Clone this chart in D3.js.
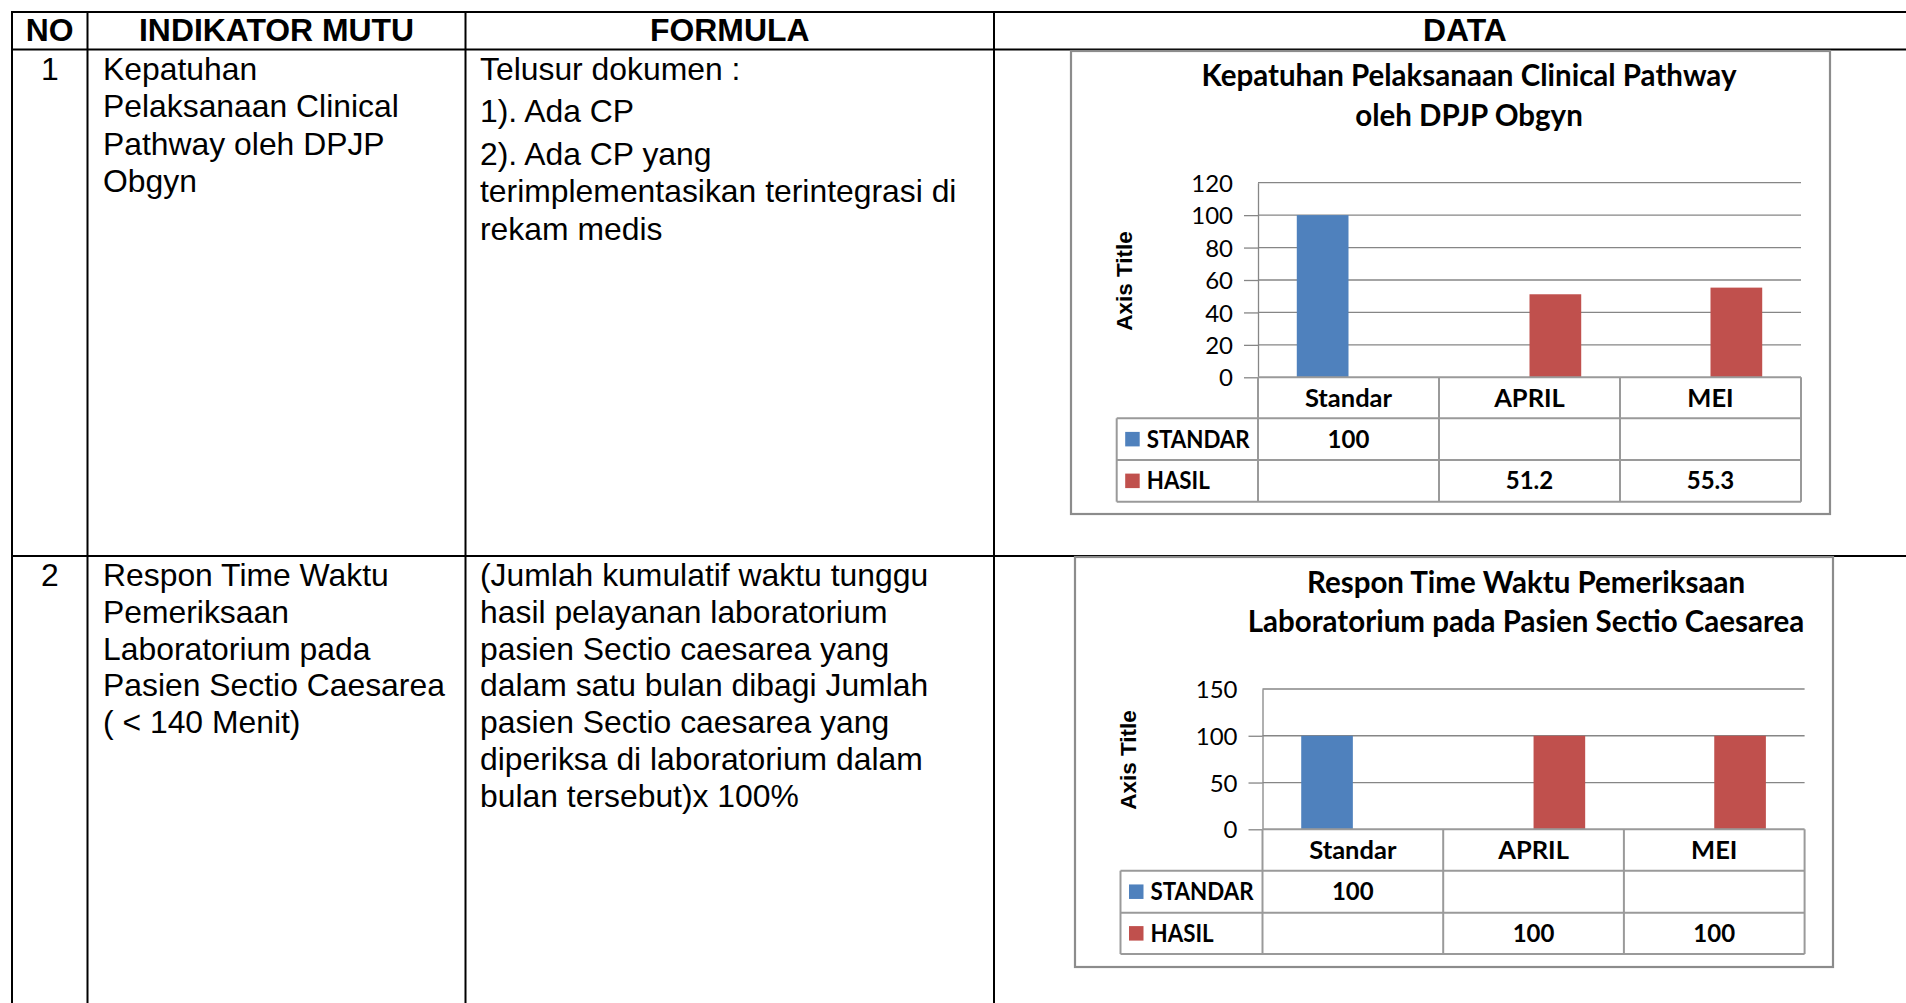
<!DOCTYPE html>
<html>
<head>
<meta charset="utf-8">
<script src="https://cdn.jsdelivr.net/npm/d3@7"></script>
<style>
  html, body { margin: 0; padding: 0; background: #ffffff; }
  svg { display: block; }
</style>
</head>
<body>
<svg id="page" width="1906" height="1003"></svg>
<script>
// ---------------- DATA ----------------
const headers = ["NO", "INDIKATOR MUTU", "FORMULA", "DATA"];
const rowNumbers = ["1", "2"];
const indicatorLines = [
  ["Kepatuhan", "Pelaksanaan Clinical", "Pathway oleh DPJP", "Obgyn"],
  ["Respon Time Waktu", "Pemeriksaan", "Laboratorium pada", "Pasien Sectio Caesarea", "( < 140 Menit)"]
];
const formulaRow1 = ["Telusur dokumen :", "1). Ada CP", "2). Ada CP yang", "terimplementasikan terintegrasi di", "rekam medis"];
const formulaRow2 = ["(Jumlah kumulatif waktu tunggu", "hasil pelayanan laboratorium", "pasien Sectio caesarea yang",
  "dalam satu bulan dibagi Jumlah", "pasien Sectio caesarea yang", "diperiksa di laboratorium dalam", "bulan tersebut)x 100%"];

const categories = ["Standar", "APRIL", "MEI"];
const seriesNames = ["STANDAR", "HASIL"];
const axisTitle = "Axis Title";

const chart1Title = ["Kepatuhan Pelaksanaan Clinical Pathway", "oleh DPJP Obgyn"];
const chart1Standar = [100, null, null];
const chart1Hasil = [null, 51.2, 55.3];
const chart1Ticks = [0, 20, 40, 60, 80, 100, 120];

const chart2Title = ["Respon Time Waktu Pemeriksaan", "Laboratorium pada Pasien Sectio Caesarea"];
const chart2Standar = [100, null, null];
const chart2Hasil = [null, 100, 100];
const chart2Ticks = [0, 50, 100, 150];

const seriesColors = ["#4F81BD", "#C0504D"];

// ---------------- DOCUMENT TABLE ----------------
const svg = d3.select("#page");
const DOC_FONT = "'Liberation Sans', Arial, sans-serif";
const docFs = 30.5, docSx = 1.045;

const colX = [12, 87.5, 465.5, 994, 1936];
const tableTop = 12, headerBottom = 49.5, rowDivider = 556, tableBottom = 1010;

const doc = svg.append("g");
doc.selectAll("line.v").data(colX).join("line")
  .attr("x1", d => d).attr("x2", d => d)
  .attr("y1", tableTop - 1).attr("y2", tableBottom)
  .attr("stroke", "#000").attr("stroke-width", 2);
doc.selectAll("line.h").data([tableTop, headerBottom, rowDivider]).join("line")
  .attr("x1", colX[0] - 1).attr("x2", colX[colX.length - 1])
  .attr("y1", d => d).attr("y2", d => d)
  .attr("stroke", "#000").attr("stroke-width", 2);

function docText(str, x, y, anchor, bold) {
  doc.append("text")
    .attr("transform", `translate(${x},${y}) scale(${docSx},1)`)
    .attr("text-anchor", anchor)
    .attr("font-family", DOC_FONT)
    .attr("font-size", docFs)
    .attr("font-weight", bold ? "bold" : "normal")
    .attr("fill", "#000")
    .text(str);
}
headers.forEach((h, i) => docText(h, (colX[i] + colX[i + 1]) / 2, 41, "middle", true));

const rowBase = [80, 586];
const rowStep = [37.3, 36.8];
rowNumbers.forEach((n, i) => docText(n, (colX[0] + colX[1]) / 2, rowBase[i], "middle", false));
indicatorLines.forEach((lines, i) => lines.forEach((l, j) => docText(l, 103, rowBase[i] + j * rowStep[i], "start", false)));
const formula1Y = [80, 121.6, 165.4, 201.8, 239.5];
formulaRow1.forEach((l, j) => docText(l, 480, formula1Y[j], "start", false));
formulaRow2.forEach((l, j) => docText(l, 480, rowBase[1] + j * rowStep[1], "start", false));

// ---------------- CHARTS ----------------
const CH_FONT = "Lato, 'Open Sans', sans-serif";

function drawChart(cfg, titleLines, standar, hasil, ticks) {
  const g = svg.append("g");
  // chart frame
  g.append("rect")
    .attr("x", cfg.box[0]).attr("y", cfg.box[1])
    .attr("width", cfg.box[2] - cfg.box[0]).attr("height", cfg.box[3] - cfg.box[1])
    .attr("fill", "#fff").attr("stroke", "#8c8c8c").attr("stroke-width", 2.2);

  // title
  titleLines.forEach((t, i) => g.append("text")
    .attr("x", cfg.titleX).attr("y", cfg.titleY[i])
    .attr("text-anchor", "middle")
    .attr("font-family", CH_FONT).attr("font-weight", "bold")
    .attr("font-size", cfg.titleFs).attr("fill", "#000").text(t));

  const x = d3.scaleBand().domain(categories).range([cfg.x0, cfg.x1]).padding(0);
  const y = d3.scaleLinear().domain([0, ticks[ticks.length - 1]]).range([cfg.yBottom, cfg.yTop]);
  const bw = x.bandwidth();
  const barW = bw / 3.5;
  const xs = d3.scaleBand().domain(seriesNames).range([bw / 2 - barW, bw / 2 + barW]).padding(0);

  // gridlines
  g.append("g").selectAll("line").data(ticks.filter(t => t > 0)).join("line")
    .attr("x1", cfg.x0).attr("x2", cfg.x1)
    .attr("y1", d => y(d)).attr("y2", d => y(d))
    .attr("stroke", "#868686").attr("stroke-width", 1.3);

  // y axis
  const ax = g.append("g").attr("transform", `translate(${cfg.x0},0)`)
    .call(d3.axisLeft(y).tickValues(ticks).tickSize(14).tickSizeOuter(0).tickPadding(11));
  ax.select(".domain").attr("stroke", "#868686").attr("stroke-width", 1.3);
  ax.selectAll(".tick line").attr("stroke", "#868686").attr("stroke-width", 1.3)
    .filter(d => d === ticks[ticks.length - 1]).remove();
  ax.selectAll(".tick text")
    .attr("font-family", CH_FONT).attr("font-size", cfg.tickFs).attr("fill", "#000")
    .attr("dy", "0.36em");

  // bars
  const seriesData = [standar, hasil];
  seriesData.forEach((vals, si) => {
    g.append("g").selectAll("rect").data(categories.map((c, i) => ({ c, v: vals[i] })).filter(d => d.v != null))
      .join("rect")
      .attr("x", d => x(d.c) + xs(seriesNames[si]))
      .attr("width", xs.bandwidth())
      .attr("y", d => y(d.v))
      .attr("height", d => y(0) - y(d.v))
      .attr("fill", seriesColors[si]);
  });

  // data table
  const rows = cfg.rows; // [axis, r1, r2, r3]
  const tg = g.append("g").attr("stroke", "#9a9a9a").attr("stroke-width", 2);
  tg.append("line").attr("x1", cfg.x0).attr("x2", cfg.x1).attr("y1", rows[0]).attr("y2", rows[0]);
  [rows[1], rows[2], rows[3]].forEach(yy => tg.append("line")
    .attr("x1", cfg.legendLeft).attr("x2", cfg.x1).attr("y1", yy).attr("y2", yy));
  const edges = categories.map(c => x(c)).concat([cfg.x1]);
  edges.forEach(ex => tg.append("line").attr("x1", ex).attr("x2", ex).attr("y1", rows[0]).attr("y2", rows[3]));
  tg.append("line").attr("x1", cfg.legendLeft).attr("x2", cfg.legendLeft).attr("y1", rows[1]).attr("y2", rows[3]);

  const labFont = (sel, fs) => sel.attr("font-family", CH_FONT).attr("font-weight", "bold")
    .attr("font-size", fs).attr("fill", "#000");
  const midY = (a, b, fs) => (a + b) / 2 + fs * 0.36;

  categories.forEach(c => g.append("text").call(labFont, cfg.catFs)
    .attr("x", x(c) + bw / 2).attr("y", midY(rows[0], rows[1], cfg.catFs))
    .attr("text-anchor", "middle").text(c));

  seriesNames.forEach((s, si) => {
    const r0 = rows[1 + si], r1 = rows[2 + si];
    const sq = 14.5;
    g.append("rect").attr("x", cfg.legendLeft + 8.5).attr("y", (r0 + r1) / 2 - sq / 2)
      .attr("width", sq).attr("height", sq).attr("fill", seriesColors[si]);
    g.append("text").call(labFont, cfg.labelFs)
      .attr("transform", `translate(${cfg.legendLeft + 30},${midY(r0, r1, cfg.labelFs)}) scale(0.93,1)`)
      .attr("text-anchor", "start").text(s);
    seriesData[si].forEach((v, i) => {
      if (v == null) return;
      g.append("text").call(labFont, cfg.labelFs)
        .attr("x", x(categories[i]) + bw / 2).attr("y", midY(r0, r1, cfg.labelFs))
        .attr("text-anchor", "middle").text(v);
    });
  });

  // axis title
  g.append("text")
    .attr("transform", `translate(${cfg.axisTitle[0]},${cfg.axisTitle[1]}) rotate(-90)`)
    .attr("text-anchor", "middle").attr("dy", "0.36em")
    .attr("font-family", "'Liberation Sans', Arial, sans-serif").attr("font-weight", "bold")
    .attr("font-size", 22.5).attr("fill", "#000").text(axisTitle);
}

drawChart({
  box: [1071, 51, 1830, 514],
  titleX: 1469, titleY: [86, 126], titleFs: 29.5,
  x0: 1258, x1: 1801, yTop: 182.7, yBottom: 377.3,
  rows: [377.3, 418.3, 460, 501.7], legendLeft: 1116.7,
  tickFs: 24, labelFs: 24, catFs: 25.5, axisTitle: [1124, 281]
}, chart1Title, chart1Standar, chart1Hasil, chart1Ticks);

drawChart({
  box: [1075, 557, 1833, 967],
  titleX: 1526, titleY: [592.5, 631.5], titleFs: 29.5,
  x0: 1262.5, x1: 1804.6, yTop: 689, yBottom: 829.3,
  rows: [829.3, 870.7, 912.7, 954], legendLeft: 1120.5,
  tickFs: 24, labelFs: 24, catFs: 25.5, axisTitle: [1128, 760]
}, chart2Title, chart2Standar, chart2Hasil, chart2Ticks);
</script>
</body>
</html>
